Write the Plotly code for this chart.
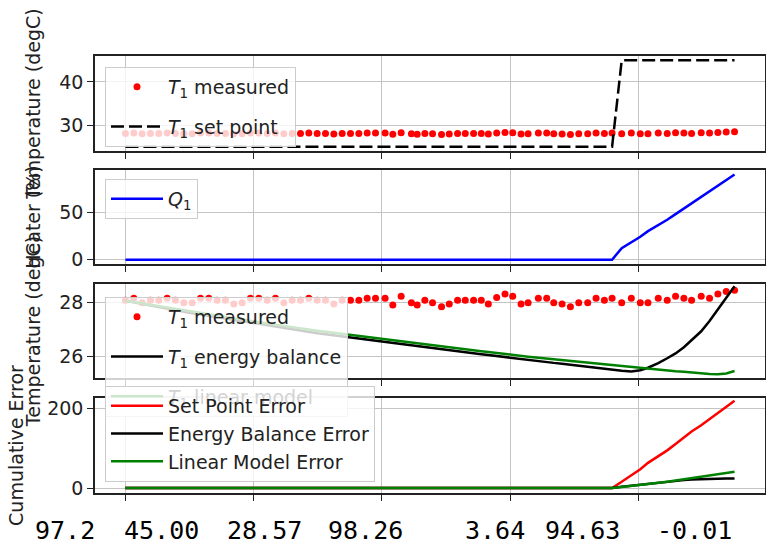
import plotly.graph_objects as go
from plotly.subplots import make_subplots

# ==============================================================================
# Data
# ==============================================================================
t = [0.0, 1.3, 2.6, 3.9, 5.2, 6.5, 7.8, 9.1, 10.4, 11.7, 13.0, 14.3, 15.6, 16.9, 18.2, 19.5,
     20.8, 22.1, 23.4, 24.7, 26.0, 27.3, 28.6, 29.9, 31.2, 32.5, 33.8, 35.1, 36.4, 37.7, 39.0,
     40.5, 41.7, 43.0, 44.6, 45.5, 46.7, 47.9, 49.3, 50.5, 51.8, 53.0, 54.3, 55.5, 56.6, 57.9,
     59.2, 60.4, 61.7, 62.8, 64.4, 65.7, 66.8, 68.1, 69.4, 70.7, 72.1, 73.4, 74.7, 75.9, 77.4,
     78.9, 80.3, 81.5, 83.1, 84.5, 85.8, 87.1, 88.3, 89.8, 91.1, 92.4, 93.7, 95.0]

T1_meas = [28.07, 28.14, 27.98, 28.07, 28.07, 28.14, 28.07, 27.98, 27.98, 28.14, 28.14, 28.07, 28.07,
           27.93, 27.98, 28.14, 28.14, 28.07, 28.14, 27.98, 28.07, 28.07, 28.14, 28.07, 28.07, 27.93,
           28.07, 28.07, 28.07, 28.14, 28.14,
           28.14, 27.89, 28.22, 27.98, 27.89, 28.07, 27.98, 27.83, 27.93, 28.07, 28.07, 28.07, 28.07,
           27.93, 28.17, 28.30, 28.22, 27.93, 27.98, 28.14, 28.14, 27.98, 27.93, 27.83, 27.98, 27.98,
           28.14, 28.07, 28.14, 27.98, 28.14, 27.98, 27.98, 28.14, 28.07, 28.22, 28.14, 28.07, 28.22,
           28.14, 28.30, 28.39, 28.44]

T1_sp = [25.0] * 60 + [45.0] * 14

Q1 = [0.0] * 60 + [12.2, 18.1, 24.1, 30.0, 36.0, 41.9, 47.9, 53.8, 59.8, 65.7, 71.7, 77.6, 83.6, 89.5]

T1_eb = [28.05, 27.99, 27.94, 27.88, 27.82, 27.76, 27.71, 27.65, 27.59, 27.54, 27.49, 27.44, 27.38,
         27.33, 27.28, 27.23, 27.18, 27.13, 27.09, 27.04, 27.00, 26.95, 26.90, 26.85, 26.81, 26.77,
         26.72, 26.68, 26.64, 26.59, 26.55, 26.51, 26.47, 26.43, 26.39, 26.36, 26.33, 26.29, 26.25,
         26.22, 26.18, 26.14, 26.10, 26.07, 26.04, 26.00, 25.96, 25.93, 25.89, 25.86, 25.82, 25.78,
         25.75, 25.72, 25.68, 25.65, 25.61, 25.57, 25.54, 25.50, 25.46, 25.43, 25.48, 25.57, 25.74,
         25.92, 26.10, 26.33, 26.58, 26.92, 27.30, 27.72, 28.14, 28.59]

T1_lin = [28.05, 28.00, 27.95, 27.89, 27.84, 27.79, 27.74, 27.69, 27.64, 27.59, 27.54, 27.49, 27.44,
          27.40, 27.35, 27.30, 27.25, 27.21, 27.16, 27.12, 27.07, 27.03, 26.99, 26.94, 26.90, 26.86,
          26.82, 26.78, 26.74, 26.70, 26.66, 26.62, 26.58, 26.54, 26.50, 26.47, 26.43, 26.40, 26.36,
          26.32, 26.29, 26.25, 26.21, 26.18, 26.15, 26.11, 26.07, 26.04, 26.01, 25.98, 25.94, 25.91,
          25.88, 25.85, 25.82, 25.79, 25.75, 25.72, 25.69, 25.66, 25.62, 25.58, 25.56, 25.53, 25.50,
          25.47, 25.44, 25.42, 25.39, 25.37, 25.34, 25.33, 25.36, 25.45]

err_sp = [0.0] * 60 + [15.6, 31.3, 47.0, 62.8, 78.4, 94.1, 109.9, 125.6, 141.3, 157.0, 172.6, 188.3, 203.6, 218.0]
err_eb = [0.0] * 60 + [2.9, 5.7, 8.4, 11.0, 13.5, 15.8, 17.9, 19.7, 21.2, 22.4, 23.2, 23.7, 23.9, 24.0]
err_lin = [0.0] * 60 + [2.5, 5.0, 7.6, 10.3, 13.0, 15.8, 18.6, 21.5, 24.5, 27.5, 30.6, 33.8, 37.2, 40.6]

status_vals = ["97.2", "45.00", "28.57", "98.26", "3.64", "94.63", "-0.01"]
status_px = [33, 122, 225, 326, 463, 543, 655]

# ==============================================================================
# Figure
# ==============================================================================
W, H = 766, 551
ML = 95
PW = W - ML - 1
FONT = "DejaVu Sans"

fig = make_subplots(rows=4, cols=1)

T1 = "<i>T</i><sub>1</sub>"

# Temperatures / set point
fig.add_trace(go.Scatter(x=t, y=T1_meas, mode='markers', marker=dict(color='#ff0000', size=7),
                         name=T1 + ' measured', legend='legend', legendgroup='a'), row=1, col=1)
fig.add_trace(go.Scatter(x=t, y=T1_sp, mode='lines', line=dict(color='black', width=2.5, dash='13px,5px'),
                         name=T1 + ' set point', legend='legend', legendgroup='b'), row=1, col=1)

# Heater
fig.add_trace(go.Scatter(x=t, y=Q1, mode='lines', line=dict(color='#0000ff', width=2.5),
                         name='<i>Q</i><sub>1</sub>', legend='legend2'), row=2, col=1)

# Models
fig.add_trace(go.Scatter(x=t, y=T1_meas, mode='markers', marker=dict(color='#ff0000', size=7),
                         name=T1 + ' measured', legend='legend3', legendgroup='c'), row=3, col=1)
fig.add_trace(go.Scatter(x=t, y=T1_eb, mode='lines', line=dict(color='black', width=2.5),
                         name=T1 + ' energy balance', legend='legend3', legendgroup='d'), row=3, col=1)
fig.add_trace(go.Scatter(x=t, y=T1_lin, mode='lines', line=dict(color='#008000', width=2.5),
                         name=T1 + ' linear model', legend='legend3', legendgroup='e'), row=3, col=1)

# Cumulative errors
fig.add_trace(go.Scatter(x=t, y=err_sp, mode='lines', line=dict(color='#ff0000', width=2.5),
                         name='Set Point Error', legend='legend4', legendgroup='f'), row=4, col=1)
fig.add_trace(go.Scatter(x=t, y=err_eb, mode='lines', line=dict(color='black', width=2.5),
                         name='Energy Balance Error', legend='legend4', legendgroup='g'), row=4, col=1)
fig.add_trace(go.Scatter(x=t, y=err_lin, mode='lines', line=dict(color='#008000', width=2.5),
                         name='Linear Model Error', legend='legend4', legendgroup='h'), row=4, col=1)

# ==============================================================================
# Axes
# ==============================================================================
def py(px):
    return 1 - px / H

domains = [(151, 56), (264, 170), (378, 284), (493, 398)]
yranges = [[24, 46], [-4.5, 94.2], [25.19, 28.67], [-12.5, 225]]
ydticks = [10, 50, 2, 200]
ytitles = ["Temperature (degC)", "Heater (%)", "Temperature (degC)", "Cumulative Error"]
ystandoff = [14, 14, 14, 19]

for i in range(4):
    fig.update_yaxes(domain=[py(domains[i][0]), py(domains[i][1])], range=yranges[i], dtick=ydticks[i],
                     title=dict(text=ytitles[i], font=dict(size=19, color='#222'), standoff=ystandoff[i]),
                     row=i + 1, col=1)
    fig.update_xaxes(range=[-4.75, 99.75], dtick=20, showticklabels=False, row=i + 1, col=1)

fig.update_xaxes(showline=True, mirror=True, linecolor='#222', linewidth=1.5, ticks='outside', ticklen=6,
                 tickwidth=1.2, tickcolor='#222', showgrid=True, gridcolor='#c4c4c4', gridwidth=1.2,
                 zeroline=False, automargin=False)
fig.update_yaxes(showline=True, mirror=True, linecolor='#222', linewidth=1.5, ticks='outside', ticklen=6,
                 tickwidth=1.2, tickcolor='#222', showgrid=True, gridcolor='#c4c4c4', gridwidth=1.2,
                 zeroline=False, tickfont=dict(size=19, color='#222'), automargin=False)

# ==============================================================================
# Status line
# ==============================================================================
for val, px in zip(status_vals, status_px):
    fig.add_annotation(text=val, x=(px - ML) / PW, y=py(530), xref='paper', yref='paper',
                       xanchor='left', yanchor='middle', showarrow=False,
                       font=dict(family='DejaVu Sans Mono', size=25, color='black'))

# ==============================================================================
# Layout
# ==============================================================================
leg = dict(x=(105 - ML) / PW, xanchor='left', yanchor='top', bgcolor='rgba(255,255,255,0.8)',
           bordercolor='#cccccc', borderwidth=1, font=dict(size=19, color='#222'), itemwidth=52)

fig.update_layout(
    width=W, height=H, margin=dict(l=ML, r=1, t=0, b=0, autoexpand=False),
    paper_bgcolor='white', plot_bgcolor='white',
    font=dict(family=FONT, size=19, color='#222'),
    legend=dict(leg, y=py(67), tracegroupgap=12),
    legend2=dict(leg, y=py(179)),
    legend3=dict(leg, y=py(297), tracegroupgap=12),
    legend4=dict(leg, y=py(386), tracegroupgap=0),
)

fig.write_html("out.html", config={'displayModeBar': False},
               post_script="document.body.style.margin='0';document.body.style.overflow='hidden';")
